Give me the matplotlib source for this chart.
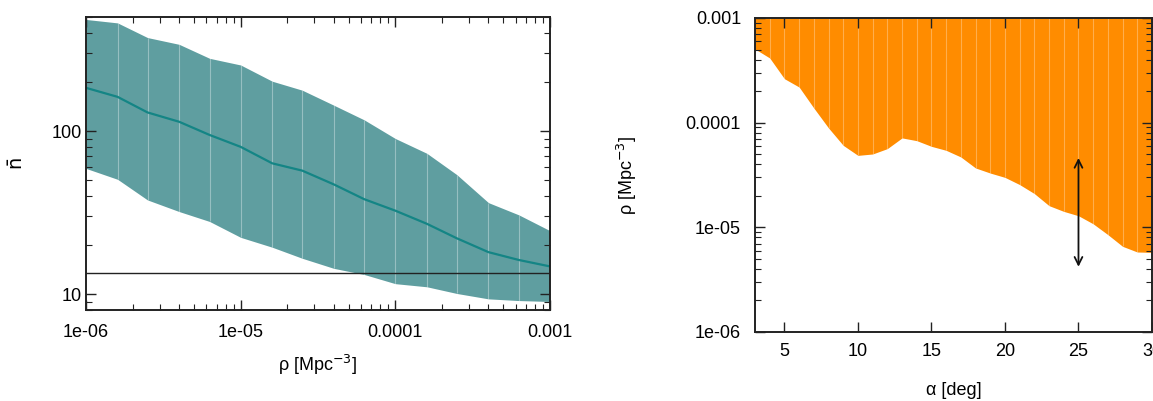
import numpy as np
import matplotlib
matplotlib.use("Agg")
import matplotlib.pyplot as plt
from matplotlib.ticker import LogLocator, NullFormatter, FixedLocator, FixedFormatter

plt.rcParams['font.family'] = ['Liberation Sans', 'DejaVu Sans']

# ---- Left panel data ----
rho = [1.0e-6, 1.6e-6, 2.5e-6, 4.0e-6, 6.3e-6, 1.0e-5, 1.6e-5, 2.5e-5,
       4.0e-5, 6.3e-5, 1.0e-4, 1.6e-4, 2.5e-4, 4.0e-4, 6.3e-4, 1.0e-3]
n_upper = [483, 460, 374, 340, 279, 254, 202, 178, 144, 117, 90, 73, 54, 36.4, 30.6, 24.5]
n_mean = [184, 162, 130, 114, 94.6, 80, 63.4, 57.2, 47.1, 38.2, 32.5, 27.0, 22.0, 18.1, 16.2, 14.8]
n_lower = [59, 50.6, 37.8, 32.1, 27.9, 22.3, 19.4, 16.6, 14.4, 13.2, 11.6, 11.1, 10.1, 9.36, 9.14, 9.02]
n_threshold = 13.5
left_xticks = [1e-6, 1e-5, 1e-4, 1e-3]
left_xticklabels = ['1e-06', '1e-05', '0.0001', '0.001']
left_yticks = [10, 100]
left_yticklabels = ['10', '100']

# ---- Right panel data ----
alpha = list(range(3, 31))
rho_limit = [5.06e-4, 4.15e-4, 2.63e-4, 2.19e-4, 1.38e-4, 8.9e-5, 6.07e-5, 4.87e-5,
             5.02e-5, 5.65e-5, 7.15e-5, 6.73e-5, 5.94e-5, 5.44e-5, 4.70e-5, 3.69e-5,
             3.30e-5, 3.00e-5, 2.56e-5, 2.10e-5, 1.61e-5, 1.42e-5, 1.29e-5, 1.08e-5,
             8.51e-6, 6.58e-6, 5.81e-6, 5.77e-6]
arrow_alpha = 25
arrow_rho = [4.6e-5, 4.2e-6]
right_xticks = [5, 10, 15, 20, 25, 30]
right_yticks = [1e-6, 1e-5, 1e-4, 1e-3]
right_yticklabels = ['1e-06', '1e-05', '0.0001', '0.001']

W, H = 1153, 401
fig = plt.figure(figsize=(W / 100, H / 100), dpi=100)

def px_axes(l, r, t, b):
    return fig.add_axes([l / W, 1 - b / H, (r - l) / W, (b - t) / H])

ax1 = px_axes(86, 550, 17, 310)
ax2 = px_axes(755, 1152, 18, 332)

band_col = '#5f9ea0'
ax1.fill_between(rho, n_lower, n_upper, color=band_col, lw=0, zorder=1)
ax1.vlines(rho[1:-1], n_lower[1:-1], n_upper[1:-1], color='white', alpha=0.35, lw=0.8, zorder=1.5)
ax1.plot(rho, n_mean, color='#148585', lw=1.6, zorder=2)
ax1.axhline(n_threshold, color='#222222', lw=1.0, zorder=3)
ax1.set_xscale('log')
ax1.set_yscale('log')
ax1.set_xlim(1e-6, 1e-3)
ax1.set_ylim(8, 500)
ax1.xaxis.set_major_locator(FixedLocator(left_xticks))
ax1.xaxis.set_major_formatter(FixedFormatter(left_xticklabels))
ax1.xaxis.set_minor_locator(LogLocator(base=10, subs=np.arange(2, 10)))
ax1.xaxis.set_minor_formatter(NullFormatter())
ax1.yaxis.set_major_locator(FixedLocator(left_yticks))
ax1.yaxis.set_major_formatter(FixedFormatter(left_yticklabels))
ax1.yaxis.set_minor_locator(LogLocator(base=10, subs=np.arange(2, 10)))
ax1.yaxis.set_minor_formatter(NullFormatter())
ax1.set_xlabel(r'ρ [Mpc$^{-3}$]', fontsize=13, labelpad=9)
ax1.set_ylabel(r'$\bar{\mathrm{n}}$', fontsize=14, labelpad=18)

orange = '#ff8c00'
top = [1e-3] * len(alpha)
ax2.fill_between(alpha, rho_limit, top, color=orange, lw=0, zorder=1)
ax2.vlines(alpha[1:-1], rho_limit[1:-1], top[1:-1], color='white', alpha=0.3, lw=0.8, zorder=1.5)
ax2.annotate('', xy=(arrow_alpha, arrow_rho[0]), xytext=(arrow_alpha, arrow_rho[1]),
             arrowprops=dict(arrowstyle='<->', color='#111111', lw=1.3,
                             mutation_scale=14, shrinkA=0, shrinkB=0), zorder=4)
ax2.set_yscale('log')
ax2.set_xlim(3, 30)
ax2.set_ylim(1e-6, 1e-3)
ax2.xaxis.set_major_locator(FixedLocator(right_xticks))
ax2.yaxis.set_major_locator(FixedLocator(right_yticks))
ax2.yaxis.set_major_formatter(FixedFormatter(right_yticklabels))
ax2.yaxis.set_minor_locator(LogLocator(base=10, subs=np.arange(2, 10)))
ax2.yaxis.set_minor_formatter(NullFormatter())
ax2.set_xlabel('α [deg]', fontsize=13, labelpad=16)
ax2.set_ylabel(r'ρ [Mpc$^{-3}$]', fontsize=13, labelpad=34)

for ax in (ax1, ax2):
    ax.tick_params(which='both', direction='in', top=True, right=True,
                   labelsize=13, color='#222222')
    ax.tick_params(which='major', length=7, width=1.0)
    ax.tick_params(which='minor', length=4, width=0.8)
    for s in ax.spines.values():
        s.set_linewidth(1.4)
        s.set_color('#222222')
        s.set_zorder(5)
ax1.tick_params(axis='x', which='both', pad=10)
ax1.tick_params(axis='y', which='both', pad=3)
ax2.tick_params(axis='x', which='both', pad=8)
ax2.tick_params(axis='y', which='both', pad=10)

fig.savefig('out.png', dpi=100)
